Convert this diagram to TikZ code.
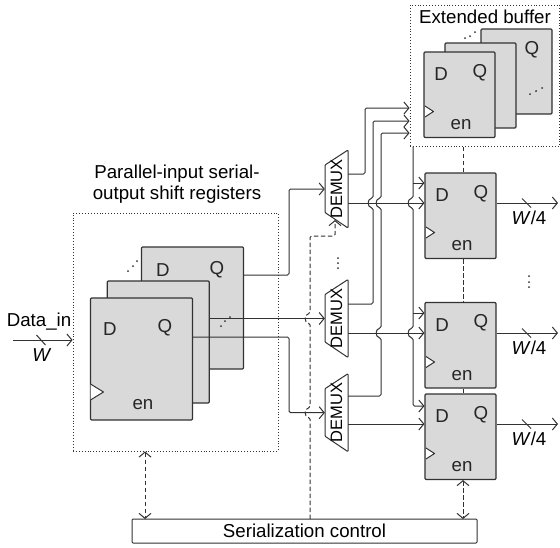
\documentclass[tikz,border=0pt]{standalone}
\usepackage{fontspec}
\setsansfont{Liberation Sans}
\usetikzlibrary{arrows.meta,positioning}
\tikzset{
  regbox/.style={draw=regline, fill=regfill, line width=1.1pt, rounded corners=1pt, inner sep=0pt},
  dotbox/.style={draw=regline, line width=0.9pt, dash pattern=on 0.9pt off 2pt, inner sep=0pt},
  wire/.style={draw=regline, line width=1pt, rounded corners=1.5pt},
  ctl/.style={wire, dash pattern=on 4.5pt off 2.5pt},
  clk/.style={draw=regline, fill=white, line width=1pt},
  pin/.style={inner sep=0pt, text=black!85},
  dotsmark/.style={fill=regline}
}
% vertical line that bends round a crossing
\newcommand{\hop}[2]{-- (#1,#2+5) .. controls (#1-6,#2+4) and (#1-6,#2-4) .. (#1,#2-5)}
\begin{document}
\begin{tikzpicture}[
  font={\sffamily\fontsize{18.7}{21}\selectfont},
  x=1pt, y=-1pt, % pixel size, y runs downward
  line join=round,
  >={Straight Barb[length=5pt,width=12pt,line width=1pt]}
]
  % Colors
  \definecolor{regfill}{RGB}{217,217,217}
  \definecolor{regline}{RGB}{50,50,50}

  % ---- background ----
  \fill[white] (0,0) rectangle (560,547);
  \useasboundingbox (0,0) rectangle (560,547);

  \def\busr{413}

  % ---- dotted boxes ----
  \node[dotbox, minimum width=205, minimum height=238] (shiftbox) at (175.5,332) {};
  \node[dotbox, minimum width=149.5, minimum height=141.5] (extbox) at (484.75,75.75) {};
  \node[align=center, inner sep=0pt] (shifttitle) at (177,184) {Parallel-input serial-\\output shift registers};
  \node[inner sep=0pt] (exttitle) at (485,17) {Extended buffer};

  % ---- shift registers, back to front ----
  \foreach \n/\x/\y in {shc/192.5/308, shb/158.25/342, sha/141.5/359} {
    \node[regbox, minimum width=102, minimum height=122] (\n) at (\x,\y) {};
  }
  \node[pin] (shcd) at (163,270) {D};
  \node[pin] (shcq) at (217,270) {Q};
  \node[pin] (shad) at (110,329) {D};
  \node[pin] (shaq) at (165,328) {Q};
  \node[pin] (shaen) at (143,405) {en};
  \draw[clk] (90.5,384) -- (103.5,392) -- (90.5,400);

  % ---- extended buffer, back to front ----
  \node[regbox, minimum width=71, minimum height=85] (extc) at (516.5,71.5) {};
  \node[regbox, minimum width=71, minimum height=85] (extb) at (480.5,85.5) {};
  \node[pin] (extq) at (532,50) {Q};

  % ---- output registers ----
  \foreach \n/\x/\y in {rega/424/52, regb/425/173, regc/425/302.5, regd/425/394} {
    \node[regbox, minimum width=71, minimum height=85.5] (\n) at (\x+35.5,\y+42.75) {};
    \node[pin] (\n d) at (\x+17,\y+22.5) {D};
    \node[pin] (\n q) at (\x+56,\y+20.5) {Q};
    \node[pin] (\n en) at (\x+37,\y+73) {en};
    \draw[clk] (\x+1,\y+54) -- (\x+9.5,\y+59.5) -- (\x+1,\y+65);
  }

  % ---- demultiplexers ----
  \foreach \n/\yc/\yup/\ylow in {demuxa/189/174/203, demuxb/318.5/304/333, demuxc/412.7/396/424} {
    \draw[wire, rounded corners=0.8pt] (325,\yc-24) -- (348,\yc-39) -- (348,\yc+39) -- (325,\yc+23.5) -- cycle;
    \node[inner sep=0pt, minimum width=23, minimum height=78, font={\sffamily\fontsize{16.5}{18}\selectfont}] (\n) at (336.5,\yc) {\rotatebox{90}{DEMUX}};
    \coordinate (\n up) at (348,\yup);
    \coordinate (\n low) at (348,\ylow);
  }

  % ---- serialization control ----
  \node[draw=regline, line width=1pt, rounded corners=1pt, minimum width=345, minimum height=24, inner sep=0pt] (ctrl) at (304.5,531) {Serialization control};
  \coordinate (ctrlL) at (145,519);
  \coordinate (ctrlM) at (310,519);
  \coordinate (ctrlR) at (463,519);
  \coordinate (dtap) at (335,236);

  % ---- input ----
  \node[inner sep=0pt] (datain) at (39,322) {Data\_in};
  \node[inner sep=0pt] (wd) at (42,355) {\textit{W}};
  \coordinate (din) at (13,340);
  \coordinate (dtick) at (41,340);
  \draw[wire,->] (din) -- (din -| shiftbox.west);
  \draw[wire] (dtick) ++(-4.5,-5) -- ++(9,10);

  % ---- register outputs to demultiplexers ----
  \coordinate (busl) at (289,0);
  \draw[wire,->] ([yshift=33pt]shc.east) -| (busl |- demuxa.west) -- (demuxa.west);
  \draw[wire,->] ([yshift=23.5pt]shb.east) -- (demuxb.west);
  \draw[wire,->] ([yshift=22pt]sha.east) -| (busl |- demuxc.west) -- (demuxc.west);

  % ---- demultiplexers to extended buffer ----
  \draw[wire,->] (demuxaup) -| (365,108) -- (extbox.west |- 0,108);
  \draw[wire,->] (demuxbup) -- (373,304) \hop{373}{203} -- (373,121) -- (extbox.west |- 0,121);
  \draw[wire,->] (demuxcup) -- (381,396) \hop{381}{333} \hop{381}{203} -- (381,133) -- (extbox.west |- 0,133);

  % ---- demultiplexers to registers ----
  \foreach \n/\r in {a/b, b/c, c/d} {
    \draw[wire,->] (demux\n low) -- (demux\n low -| reg\r.west);
  }

  % ---- shared bus into the registers ----
  \draw[wire,<-] (regd.west |- 0,406) -- (\busr,406) \hop{\busr}{333} \hop{\busr}{203} -- (\busr,146.5);
  \foreach \r/\y in {b/183, c/313} {
    \draw[wire,->] (\busr,\y) -- (reg\r.west |- 0,\y);
  }

  % ---- outputs ----
  \foreach \n/\r in {a/b, b/c, c/d} {
    \coordinate (tick\n) at (demux\n low -| 526.5,0);
    \coordinate (out\n) at (demux\n low -| 558,0);
    \draw[wire,->] (demux\n low -| reg\r.east) -- (out\n);
    \draw[wire] (tick\n) ++(-4.5,-4.5) -- ++(9,9);
    \node[below=8pt of tick\n, xshift=2.5pt, inner sep=0pt] (wl\n) {\textit{W}/4};
  }

  % ---- control lines ----
  \draw[ctl,<->] (ctrlL |- shiftbox.south) -- (ctrlL);
  \draw[ctl,<->] (ctrlR |- regd.south) -- (ctrlR);
  \draw[ctl,->] (ctrlM) \hop{310}{412.7} \hop{310}{318.5} -- (ctrlM |- dtap) -- (dtap) -- ++(0,-16);
  \draw[ctl] (ctrlR |- extbox.south) -- (ctrlR |- regb.north);
  \draw[ctl] (ctrlR |- regb.south) -- (ctrlR |- regc.north);
  \draw[wire] (ctrlR |- regc.south) -- (ctrlR |- regd.north);

  % ---- dots ----
  \foreach \x/\y in {
    465/38, 470/36, 475/32,
    530/94, 536/91, 542/88,
    128/271, 133/266, 137/261,
    221/326, 225/321, 230/317,
    338/258, 338/263, 338/268,
    529/276, 529/282, 529/287
  }{
    \fill[dotsmark] (\x,\y) circle (1pt);
  }

\end{tikzpicture}
\end{document}
